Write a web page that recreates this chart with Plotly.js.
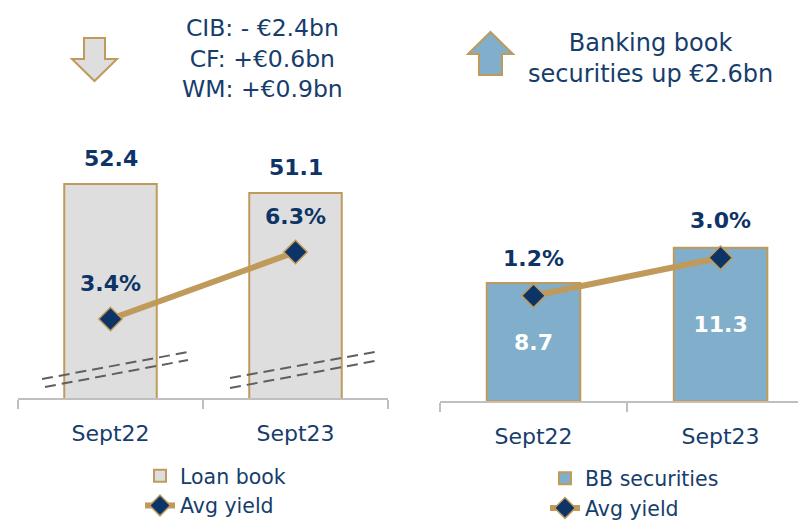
<!DOCTYPE html>
<html>
<head>
<meta charset="utf-8">
<script src="https://cdn.plot.ly/plotly-3.0.1.min.js"></script>
<style>html,body{margin:0;padding:0;background:#fff;}#chart{width:798px;height:520px;}</style>
</head>
<body>
<div id="chart"></div>
<script>
// ---- data ----
const categories = ['Sept22', 'Sept23'];
const loanBook = [52.4, 51.1];
const loanYield = [3.4, 6.3];
const bbSecurities = [8.7, 11.3];
const bbYield = [1.2, 3.0];
const loanNote = 'CIB: - €2.4bn<br>CF: +€0.6bn<br>WM: +€0.9bn';
const bbNote = 'Banking book<br>securities up €2.6bn';

// ---- style ----
const W = 798, H = 520;
const px = x => x / W;
const py = y => 1 - y / H;
const FONT = 'DejaVu Sans';
const NAVY = '#163d6b';
const DNAVY = '#0d3466';
const GOLD = '#c09a5a';
const GREY = '#dedede';
const BLUE = '#80aecb';
const AXIS = '#bfbfbf';

const traces = [
  {type: 'bar', x: categories, y: loanBook, xaxis: 'x', yaxis: 'y', name: 'Loan book', legend: 'legend',
   width: 0.5, marker: {color: GREY, line: {color: GOLD, width: 2}}, hoverinfo: 'skip'},
  {type: 'scatter', mode: 'lines+markers', x: categories, y: loanYield, xaxis: 'x', yaxis: 'y2', name: 'Avg yield', legend: 'legend',
   line: {color: GOLD, width: 6}, marker: {symbol: 'diamond', size: 18, color: DNAVY, line: {color: GOLD, width: 1.5}}, hoverinfo: 'skip'},
  {type: 'bar', x: categories, y: bbSecurities, xaxis: 'x2', yaxis: 'y3', name: 'BB securities', legend: 'legend2',
   width: 0.5, marker: {color: BLUE, line: {color: GOLD, width: 2}},
   text: bbSecurities.map(v => v.toFixed(1)), textposition: 'inside', insidetextanchor: 'middle', textangle: 0,
   constraintext: 'none', textfont: {family: FONT, size: 22, color: '#ffffff', weight: 'bold'}, hoverinfo: 'skip'},
  {type: 'scatter', mode: 'lines+markers', x: categories, y: bbYield, xaxis: 'x2', yaxis: 'y4', name: 'Avg yield', legend: 'legend2',
   line: {color: GOLD, width: 6}, marker: {symbol: 'diamond', size: 18, color: DNAVY, line: {color: GOLD, width: 1.5}}, hoverinfo: 'skip'}
];

const xCommon = {type: 'category', showline: true, linecolor: AXIS, linewidth: 1.5, ticks: 'outside', tickson: 'boundaries',
  ticklen: 9, tickwidth: 1.5, tickcolor: AXIS, showgrid: false, zeroline: false, fixedrange: true,
  tickfont: {family: FONT, size: 22, color: NAVY}, ticklabelstandoff: 15};

const annotations = [];
categories.forEach((c, i) => {
  annotations.push({x: c, y: loanBook[i], xref: 'x', yref: 'y', yshift: 26, showarrow: false,
    text: loanBook[i].toFixed(1), font: {family: FONT, size: 22, color: DNAVY, weight: 'bold'}});
  annotations.push({x: c, y: loanYield[i], xref: 'x', yref: 'y2', yshift: 36, showarrow: false,
    text: loanYield[i].toFixed(1) + '%', font: {family: FONT, size: 22, color: DNAVY, weight: 'bold'}});
  annotations.push({x: c, y: bbYield[i], xref: 'x2', yref: 'y4', yshift: 37, showarrow: false,
    text: bbYield[i].toFixed(1) + '%', font: {family: FONT, size: 22, color: DNAVY, weight: 'bold'}});
});
annotations.push({x: px(262), y: py(58), xref: 'paper', yref: 'paper', showarrow: false, align: 'center',
  xanchor: 'center', yanchor: 'middle', text: loanNote, font: {family: FONT, size: 23.5, color: NAVY}});
annotations.push({x: px(650), y: py(58), xref: 'paper', yref: 'paper', showarrow: false, align: 'center',
  xanchor: 'center', yanchor: 'middle', text: bbNote, font: {family: FONT, size: 24, color: NAVY}});

function pathOf(pts) {
  return 'M' + pts.map(p => px(p[0]).toFixed(5) + ',' + py(p[1]).toFixed(5)).join(' L') + ' Z';
}
function dashLine(x0, y0, x1, y1) {
  return {type: 'line', xref: 'paper', yref: 'paper', x0: px(x0), y0: py(y0), x1: px(x1), y1: py(y1),
    line: {color: '#5f5f5f', width: 2, dash: '11px,6px'}, layer: 'above'};
}
const shapes = [
  dashLine(42, 379, 188, 352), dashLine(45, 387, 188, 360),
  dashLine(230, 378, 375, 352), dashLine(230, 388, 375, 361),
  {type: 'path', xref: 'paper', yref: 'paper', fillcolor: GREY, line: {color: GOLD, width: 2},
   path: pathOf([[84, 38], [105, 38], [105, 59], [117, 59], [94.5, 81], [72, 59], [84, 59]])},
  {type: 'path', xref: 'paper', yref: 'paper', fillcolor: BLUE, line: {color: GOLD, width: 2},
   path: pathOf([[490.5, 32], [513, 54], [502, 54], [502, 75], [479, 75], [479, 54], [468, 54]])}
];

const layout = {
  width: W, height: H, margin: {l: 0, r: 0, t: 0, b: 0, autoexpand: false},
  paper_bgcolor: '#ffffff', plot_bgcolor: 'rgba(0,0,0,0)',
  font: {family: FONT, color: NAVY},
  xaxis: Object.assign({}, xCommon, {domain: [px(18), px(388)], range: [-0.5, 1.5], anchor: 'y'}),
  yaxis: {domain: [py(398), py(140)], range: [21.5, 58.76], visible: false, fixedrange: true, anchor: 'x'},
  yaxis2: {overlaying: 'y', range: [-0.02, 11.15], visible: false, fixedrange: true, anchor: 'x'},
  xaxis2: Object.assign({}, xCommon, {domain: [px(440), 1], range: [-0.5, 1.414], anchor: 'y3'}),
  yaxis3: {domain: [py(401), py(140)], range: [0, 19.26], visible: false, fixedrange: true, anchor: 'x2'},
  yaxis4: {overlaying: 'y3', range: [-3.79, 8.58], visible: false, fixedrange: true, anchor: 'x2'},
  showlegend: true,
  legend: {x: px(140), y: py(456), xanchor: 'left', yanchor: 'top', bgcolor: 'rgba(0,0,0,0)', tracegroupgap: 0,
    font: {family: FONT, size: 20.5, color: NAVY}, itemclick: false, itemdoubleclick: false},
  legend2: {x: px(545), y: py(458.5), xanchor: 'left', yanchor: 'top', bgcolor: 'rgba(0,0,0,0)', tracegroupgap: 0,
    font: {family: FONT, size: 20.5, color: NAVY}, itemclick: false, itemdoubleclick: false},
  annotations: annotations,
  shapes: shapes
};

Plotly.newPlot('chart', traces, layout, {displayModeBar: false, staticPlot: true});
</script>
</body>
</html>
